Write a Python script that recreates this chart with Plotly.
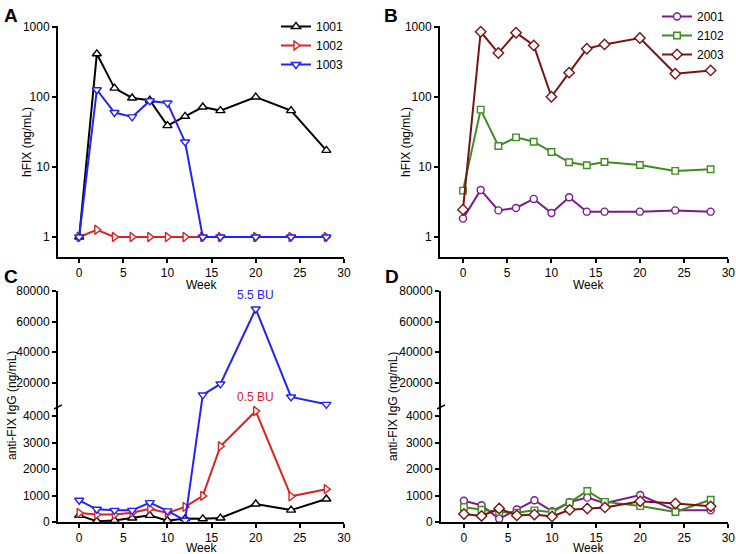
import plotly.graph_objects as go

weeks = [0, 2, 4, 6, 8, 10, 12, 14, 16, 20, 24, 28]

# Panel A: hFIX (ng/mL)
hfix_1001 = [1, 415, 134, 97, 90, 39, 53, 72, 64, 100, 64, 17.3]
hfix_1002 = [1, 1.27, 1, 1, 1, 1, 1, 1, 1, 1, 1, 1]
hfix_1003 = [1, 127, 60, 52, 88, 82, 22.8, 1, 1, 1, 1, 1]

# Panel B: hFIX (ng/mL)
hfix_2001 = [1.83, 4.7, 2.4, 2.6, 3.5, 2.2, 3.7, 2.3, 2.3, 2.3, 2.4, 2.3]
hfix_2102 = [4.6, 66, 20, 26.5, 23, 16.4, 11.7, 10.6, 11.8, 10.7, 8.8, 9.3]
hfix_2003 = [2.46, 857, 425, 830, 547, 101, 223, 490, 565, 697, 215, 240]

# Panel C: anti-FIX IgG (ng/mL)
igg_1001 = [250, 30, 60, 150, 250, 50, 130, 120, 150, 680, 450, 870]
igg_1002 = [340, 280, 280, 350, 500, 340, 570, 985, 2860, 4190, 970, 1240]
igg_1003 = [820, 480, 440, 440, 730, 420, 60, 11870, 19100, 68350, 10550, 5700]

# Panel D: anti-FIX IgG (ng/mL)
igg_2001 = [800, 630, 120, 470, 820, 410, 750, 920, 710, 1020, 440, 440]
igg_2102 = [560, 460, 380, 350, 440, 370, 740, 1170, 760, 600, 380, 840]
igg_2003 = [300, 230, 510, 250, 280, 210, 460, 510, 550, 780, 700, 590]

igg_tick_values = [0, 1000, 2000, 3000, 4000, 20000, 40000, 60000, 80000]
igg_tick_labels = ["0", "1000", "2000", "3000", "4000", "20000", "40000", "60000", "80000"]

annot_c = [("5.5 BU", 20, 68350, "#2323f5"), ("0.5 BU", 20, 4190, "#dc2323")]

# broken-axis scale: lower segment 0..BREAK_LOW, compressed upper segment
BREAK_LOW = 4345
UPPER_START = 4000
UPPER_RATIO = 0.05745


def brk(v):
    if v <= BREAK_LOW:
        return v / 1000.0
    return BREAK_LOW / 1000.0 + (v - UPPER_START) / 1000.0 * UPPER_RATIO


C_BLACK = "#000000"
C_RED = "#dc2323"
C_BLUE = "#2323f5"
C_PURPLE = "#7d1a8c"
C_GREEN = "#3d8c1e"
C_DRED = "#7a1212"

FONT = "Liberation Sans, Arial, sans-serif"
W, H = 736, 554


def px(x):
    return x / W


def py(y):
    return 1 - y / H


fig = go.Figure()


def add(x, y, name, color, symbol, size, xa, ya, legend="legend", showlegend=True):
    fig.add_trace(go.Scatter(
        x=x, y=y, name=name, mode="lines+markers",
        line=dict(color=color, width=2),
        marker=dict(symbol=symbol, size=size, color="white",
                    line=dict(color=color, width=1.4)),
        xaxis=xa, yaxis=ya, showlegend=showlegend, legend=legend,
    ))


# A
add(weeks, hfix_1001, "1001", C_BLACK, "triangle-up", 8, "x", "y", "legend")
add(weeks, hfix_1002, "1002", C_RED, "triangle-right", 8, "x", "y", "legend")
add(weeks, hfix_1003, "1003", C_BLUE, "triangle-down", 8, "x", "y", "legend")
# B
add(weeks, hfix_2001, "2001", C_PURPLE, "circle", 7, "x2", "y2", "legend2")
add(weeks, hfix_2102, "2102", C_GREEN, "square", 6.5, "x2", "y2", "legend2")
add(weeks, hfix_2003, "2003", C_DRED, "diamond", 8, "x2", "y2", "legend2")
# C
add(weeks, [brk(v) for v in igg_1001], "1001", C_BLACK, "triangle-up", 8, "x3", "y3", showlegend=False)
add(weeks, [brk(v) for v in igg_1002], "1002", C_RED, "triangle-right", 8, "x3", "y3", showlegend=False)
add(weeks, [brk(v) for v in igg_1003], "1003", C_BLUE, "triangle-down", 8, "x3", "y3", showlegend=False)
# D
add(weeks, [brk(v) for v in igg_2001], "2001", C_PURPLE, "circle", 7, "x4", "y4", showlegend=False)
add(weeks, [brk(v) for v in igg_2102], "2102", C_GREEN, "square", 6.5, "x4", "y4", showlegend=False)
add(weeks, [brk(v) for v in igg_2003], "2003", C_DRED, "diamond", 8, "x4", "y4", showlegend=False)

axis_common = dict(
    showline=True, linecolor="black", linewidth=2, ticks="outside",
    ticklen=4, tickwidth=2, tickcolor="black", showgrid=False, zeroline=False,
    tickfont=dict(family=FONT, size=12, color="black"), mirror=False,
)

xA = dict(domain=[px(58), px(344)], range=[-2.4, 30], tick0=0, dtick=5, anchor="y", **axis_common)
xB = dict(domain=[px(440), px(728.3)], range=[-2.6, 30], tick0=0, dtick=5, anchor="y2", **axis_common)
xC = dict(domain=[px(58), px(344)], range=[-2.4, 30], tick0=0, dtick=5, anchor="y3", **axis_common)
xD = dict(domain=[px(441), px(728.3)], range=[-2.6, 30], tick0=0, dtick=5, anchor="y4", **axis_common)

yA = dict(type="log", domain=[py(257), py(26)], range=[-0.286, 3.015], anchor="x",
          tickvals=[1, 10, 100, 1000], ticktext=["1", "10", "100", "1000"], **axis_common)
yB = dict(type="log", domain=[py(257), py(26)], range=[-0.286, 3.015], anchor="x2",
          tickvals=[1, 10, 100, 1000], ticktext=["1", "10", "100", "1000"], **axis_common)
ticks_t = [brk(v) for v in igg_tick_values]
yC = dict(domain=[py(522), py(291)], range=[0, brk(80000) + 0.01], anchor="x3",
          tickvals=ticks_t, ticktext=igg_tick_labels, **axis_common)
yD = dict(domain=[py(522), py(291)], range=[0, brk(80000) + 0.01], anchor="x4",
          tickvals=ticks_t, ticktext=igg_tick_labels, **axis_common)

annotations = []
for txt, x, y in [("A", 11, 16), ("B", 391, 16), ("C", 11, 276), ("D", 392, 276)]:
    annotations.append(dict(text="<b>%s</b>" % txt, x=px(x), y=py(y), xref="paper", yref="paper",
                            showarrow=False, font=dict(family=FONT, size=19, color="black"),
                            xanchor="center", yanchor="middle"))
for x, y in [(201, 285), (588, 285), (201, 548), (588, 548)]:
    annotations.append(dict(text="Week", x=px(x), y=py(y), xref="paper", yref="paper",
                            showarrow=False, font=dict(family=FONT, size=12, color="black"),
                            xanchor="center", yanchor="middle"))
for txt, x, y in [("hFIX (ng/mL)", 27, 142), ("hFIX (ng/mL)", 406, 142),
                  ("anti-FIX IgG (ng/mL)", 12, 406), ("anti-FIX IgG (ng/mL)", 393, 406)]:
    annotations.append(dict(text=txt, x=px(x), y=py(y), xref="paper", yref="paper",
                            showarrow=False, textangle=-90,
                            font=dict(family=FONT, size=12, color="black"),
                            xanchor="center", yanchor="middle"))
for txt, wx, v, col in annot_c:
    annotations.append(dict(text=txt, x=wx, y=brk(v), xref="x3", yref="y3", showarrow=False,
                            yshift=14, font=dict(family=FONT, size=12, color=col)))

shapes = []
tb = brk(BREAK_LOW)
for xpix, yref in [(58, "y3"), (441, "y4")]:
    shapes.append(dict(type="line", xref="paper", yref=yref,
                       x0=px(xpix - 4), x1=px(xpix + 4), y0=tb - 0.08, y1=tb + 0.08,
                       line=dict(color="black", width=1.5)))

legend_common = dict(font=dict(family=FONT, size=12, color="black"), bgcolor="rgba(0,0,0,0)",
                     borderwidth=0, xanchor="left", yanchor="top", tracegroupgap=0,
                     itemwidth=30)

fig.update_layout(
    width=W, height=H, margin=dict(l=0, r=0, t=0, b=0, autoexpand=False),
    paper_bgcolor="white", plot_bgcolor="white",
    xaxis=xA, yaxis=yA, xaxis2=xB, yaxis2=yB, xaxis3=xC, yaxis3=yC, xaxis4=xD, yaxis4=yD,
    annotations=annotations, shapes=shapes,
    legend=dict(x=px(276), y=py(12), **legend_common),
    legend2=dict(x=px(657), y=py(2), **legend_common),
    font=dict(family=FONT, color="black"),
)

fig.write_html("out.html", config={"displayModeBar": False},
               post_script="document.body.style.margin='0px';document.body.style.overflow='hidden';")
